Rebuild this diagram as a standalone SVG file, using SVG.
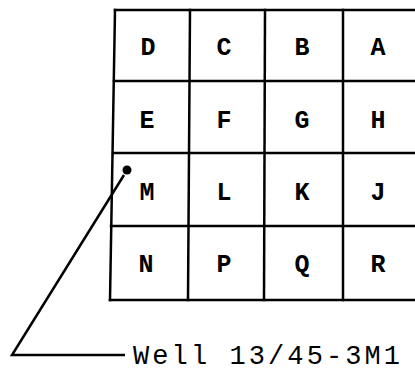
<svg xmlns="http://www.w3.org/2000/svg" width="415" height="374" viewBox="0 0 415 374">
<style>
.g{stroke:#000;stroke-width:2.5;fill:none;stroke-linecap:square}
.t{font-family:"Liberation Mono","Courier New",monospace;font-weight:bold;font-size:25px;fill:#000;text-anchor:middle}
.w{font-family:"Liberation Mono","Courier New",monospace;font-size:27px;fill:#000}
</style>
<rect width="415" height="374" fill="#fff"/>
<g id="grid" class="g">
<path d="M115,10 L415,10"/>
<path d="M114,81 L415,81"/>
<path d="M113,153 L415,153"/>
<path d="M111,226 L415,226"/>
<path d="M110,300 L415,300"/>
<path d="M115,10 L110,300"/>
<path d="M190,10 L188,300"/>
<path d="M265,10 L264,300"/>
<path d="M343,10 L343,300"/>
</g>
<g id="cells">
<g id="D"><text class="t" x="148" y="55">D</text></g>
<g id="C"><text class="t" x="224" y="55">C</text></g>
<g id="B"><text class="t" x="302" y="55">B</text></g>
<g id="A"><text class="t" x="378" y="55">A</text></g>
<g id="E"><text class="t" x="147" y="128">E</text></g>
<g id="F"><text class="t" x="224" y="128">F</text></g>
<g id="G"><text class="t" x="302" y="128">G</text></g>
<g id="H"><text class="t" x="378" y="128">H</text></g>
<g id="M"><text class="t" x="147" y="200">M</text></g>
<g id="L"><text class="t" x="224" y="200">L</text></g>
<g id="K"><text class="t" x="302" y="200">K</text></g>
<g id="J"><text class="t" x="378" y="200">J</text></g>
<g id="N"><text class="t" x="146" y="272">N</text></g>
<g id="P"><text class="t" x="224" y="272">P</text></g>
<g id="Q"><text class="t" x="302" y="272">Q</text></g>
<g id="R"><text class="t" x="378" y="272">R</text></g>
</g>
<g id="well">
<circle cx="127" cy="170" r="4.5" fill="#000"/>
</g>
<g id="connectors">
<path d="M124,175 L12,355 L125,355" stroke="#000" stroke-width="2.5" fill="none"/>
</g>
<g id="label">
<text class="w" x="133" y="364" textLength="267" lengthAdjust="spacing">Well 13/45-3M1</text>
</g>
</svg>
